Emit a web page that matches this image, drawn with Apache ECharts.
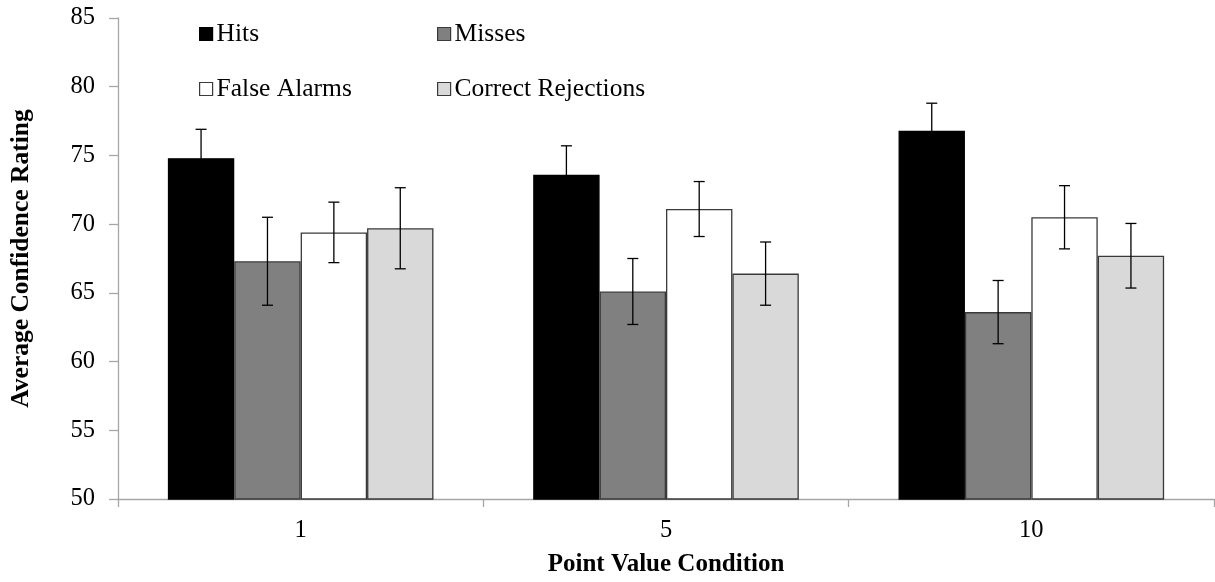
<!DOCTYPE html>
<html>
<head>
<meta charset="utf-8">
<script src="https://cdn.jsdelivr.net/npm/echarts@6/dist/echarts.min.js"></script>
<style>
  html, body { margin: 0; padding: 0; background: #fff; }
  #chart { width: 1215px; height: 582px; }
</style>
</head>
<body>
<div id="chart"></div>
<script>
// Point value conditions (x categories)
const categories = ['1', '5', '10'];

// Mean confidence ratings per response type
const hits = [74.8, 73.6, 76.8];
const misses = [67.3, 65.1, 63.6];
const falseAlarms = [69.4, 71.1, 70.5];
const correctRejections = [69.7, 66.4, 67.7];

// Error bar half-lengths
const hitsErr = [2.1, 2.1, 2.0];
const missesErr = [3.2, 2.4, 2.3];
const falseAlarmsErr = [2.2, 2.0, 2.3];
const correctRejectionsErr = [2.95, 2.3, 2.35];

const yTicks = [50, 55, 60, 65, 70, 75, 80, 85];

const FONT = '"Liberation Serif", "Times New Roman", serif';
const CATEGORY_GAP = 0.273;
const groups = [
  { name: 'Hits', values: hits, err: hitsErr, color: '#000000', border: '#000000' },
  { name: 'Misses', values: misses, err: missesErr, color: '#808080', border: '#3a3a3a' },
  { name: 'False Alarms', values: falseAlarms, err: falseAlarmsErr, color: '#ffffff', border: '#3a3a3a' },
  { name: 'Correct Rejections', values: correctRejections, err: correctRejectionsErr, color: '#d9d9d9', border: '#3a3a3a' }
];

function errorBarRenderer(k, n) {
  return function (params, api) {
    const ci = api.value(0);
    const v = api.value(1);
    const e = api.value(2);
    const band = api.size([1, 0])[0];
    const bw = band * (1 - CATEGORY_GAP) / n;
    const cx = api.coord([ci, v])[0] + (k - (n - 1) / 2) * bw;
    const top = api.coord([ci, v + e])[1];
    const bot = api.coord([ci, v - e])[1];
    const cap = 5.5;
    const style = { stroke: '#000', lineWidth: 1.3 };
    return {
      type: 'group',
      children: [
        { type: 'line', shape: { x1: cx, y1: top, x2: cx, y2: bot }, style: style },
        { type: 'line', shape: { x1: cx - cap, y1: top, x2: cx + cap, y2: top }, style: style },
        { type: 'line', shape: { x1: cx - cap, y1: bot, x2: cx + cap, y2: bot }, style: style }
      ]
    };
  };
}

const series = [];
groups.forEach(function (g) {
  series.push({
    name: g.name,
    type: 'bar',
    data: g.values,
    barGap: '0%',
    barCategoryGap: (CATEGORY_GAP * 100) + '%',
    itemStyle: { color: g.color, borderColor: g.border, borderWidth: 1.3 },
    emphasis: { disabled: true },
    z: 2
  });
});
groups.forEach(function (g, k) {
  series.push({
    name: g.name + ' error',
    type: 'custom',
    renderItem: errorBarRenderer(k, groups.length),
    data: g.values.map(function (v, i) { return [i, v, g.err[i]]; }),
    encode: { x: 0, y: 1 },
    z: 5,
    silent: true
  });
});

const legendPos = [
  { left: 199, top: 21 },
  { left: 437, top: 21 },
  { left: 199, top: 76 },
  { left: 437, top: 76 }
];

const legends = groups.map(function (g, k) {
  return {
    data: [g.name],
    left: legendPos[k].left,
    top: legendPos[k].top,
    padding: 0,
    itemWidth: 13,
    itemHeight: 13,
    icon: 'rect',
    selectedMode: false,
    itemStyle: { borderColor: g.border, borderWidth: 1.2 },
    textStyle: { fontFamily: FONT, fontSize: 25.5, color: '#000', padding: [0, 0, 0, -1] }
  };
});

const chart = echarts.init(document.getElementById('chart'), null, { renderer: 'canvas' });
chart.setOption({
  animation: false,
  backgroundColor: '#ffffff',
  legend: legends,
  grid: { left: 116, right: 1, top: 18, bottom: 83, containLabel: false },
  xAxis: {
    type: 'category',
    data: categories,
    name: 'Point Value Condition',
    nameLocation: 'middle',
    nameGap: 53,
    nameTextStyle: { fontFamily: FONT, fontSize: 25, fontWeight: 'bold', color: '#000' },
    axisLine: { lineStyle: { color: '#a6a6a6', width: 1.3 } },
    axisTick: { show: true, length: 8, lineStyle: { color: '#a6a6a6', width: 1.3 } },
    axisLabel: { fontFamily: FONT, fontSize: 24.5, color: '#000', margin: 19 }
  },
  yAxis: {
    type: 'value',
    min: yTicks[0],
    max: yTicks[yTicks.length - 1],
    interval: 5,
    name: 'Average Confidence Rating',
    nameLocation: 'middle',
    nameGap: 84,
    nameRotate: 90,
    nameTextStyle: { fontFamily: FONT, fontSize: 25.5, fontWeight: 'bold', color: '#000' },
    axisLine: { show: true, lineStyle: { color: '#a6a6a6', width: 1.3 } },
    axisTick: { show: true, length: 9, lineStyle: { color: '#a6a6a6', width: 1.3 } },
    axisLabel: { fontFamily: FONT, fontSize: 24.5, color: '#000', margin: 23 },
    splitLine: { show: false }
  },
  series: series
});
</script>
</body>
</html>
